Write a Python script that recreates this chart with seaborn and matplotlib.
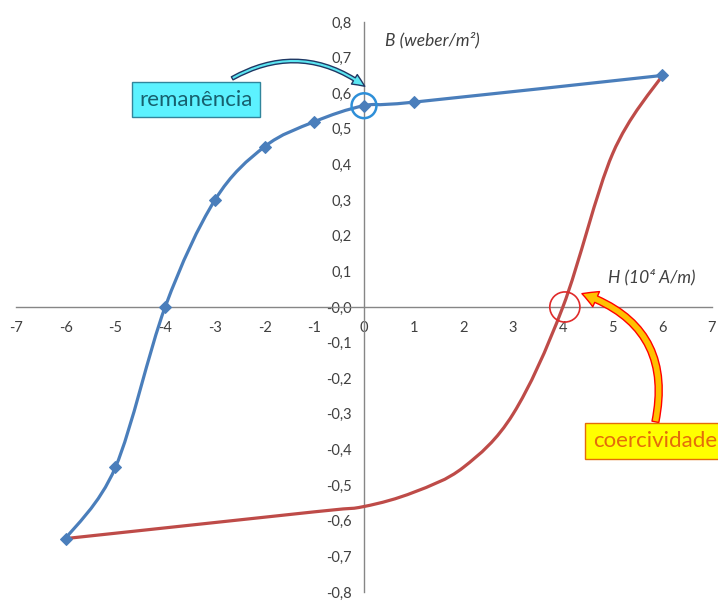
import numpy as np
import pandas as pd
import seaborn as sns
import matplotlib.pyplot as plt
from matplotlib.path import Path
from matplotlib.patches import PathPatch, FancyArrowPatch
from matplotlib.ticker import FuncFormatter, MultipleLocator

# curva de histerese (H em 10^4 A/m, B em weber/m²)
h_desc = [-6, -5, -4, -3, -2, -1, 0, 1, 6]
b_desc = [-0.65, -0.45, 0.0, 0.30, 0.45, 0.52, 0.565, 0.575, 0.65]
h_asc = [6, 5, 4, 3, 2, 1, 0, -1, -6]
b_asc = [0.65, 0.43, 0.0, -0.30, -0.45, -0.52, -0.56, -0.575, -0.65]

x_ticks = list(range(-7, 8))
y_ticks = [round(v, 1) for v in np.arange(-0.8, 0.81, 0.1)]

sns.set_theme(style="white")
plt.rcParams['font.family'] = ['Lato', 'DejaVu Sans']

BLUE = "#4A7EBB"
RED = "#BE4B48"


def smooth_path(xs, ys):
    # linha suavizada estilo Excel (Catmull-Rom -> Bezier cúbica)
    p = np.column_stack([xs, ys]).astype(float)
    ext = np.vstack([p[0], p, p[-1]])
    verts = [p[0]]
    codes = [Path.MOVETO]
    for i in range(1, len(ext) - 2):
        p0, p1, p2, p3 = ext[i - 1], ext[i], ext[i + 1], ext[i + 2]
        verts += [p1 + (p2 - p0) / 6, p2 - (p3 - p1) / 6, p2]
        codes += [Path.CURVE4] * 3
    return Path(verts, codes)


fig = plt.figure(figsize=(7.18, 6.01), dpi=100)
ax = fig.add_axes([16 / 718, 9 / 601, 696 / 718, 570 / 601])

ax.add_patch(PathPatch(smooth_path(h_asc, b_asc), fill=False, edgecolor=RED,
                       lw=2.3, capstyle='round', zorder=3))
ax.add_patch(PathPatch(smooth_path(h_desc, b_desc), fill=False, edgecolor=BLUE,
                       lw=2.3, capstyle='round', zorder=4))

df = pd.DataFrame({"H": h_desc, "B": b_desc})
sns.lineplot(data=df, x="H", y="B", sort=False, estimator=None, lw=0,
             marker="D", markersize=6.5, color=BLUE, markeredgecolor=BLUE, ax=ax, zorder=5)

ax.set_xlim(-7, 7)
ax.set_ylim(-0.8, 0.8)
ax.set_xlabel("")
ax.set_ylabel("")

for s in ["top", "right"]:
    ax.spines[s].set_visible(False)
for s in ["left", "bottom"]:
    ax.spines[s].set_position(("data", 0))
    ax.spines[s].set_color("#868686")
    ax.spines[s].set_linewidth(1.0)

ax.set_xticks(x_ticks)
ax.set_yticks(y_ticks)
ax.xaxis.set_minor_locator(MultipleLocator(0.2))
ax.xaxis.set_major_formatter(FuncFormatter(lambda v, pos: f"{v:.0f}"))
ax.yaxis.set_major_formatter(FuncFormatter(lambda v, pos: f"{v:.1f}".replace(".", ",")))
ax.tick_params(axis="both", which="major", direction="inout", length=8, width=0.9,
               color="#868686", labelsize=10.5, labelcolor="#404040")
ax.tick_params(axis="x", which="minor", direction="inout", length=4, width=0.8,
               color="#868686")
ax.tick_params(axis="x", which="major", pad=6)
ax.tick_params(axis="y", which="major", pad=5)
ax.grid(False)

# rótulos dos eixos
ax.text(0.42, 0.75, "B (weber/m²)", style="italic", fontsize=12.5,
        color="#404040", va="center", ha="left")
ax.text(4.91, 0.085, "H (10⁴ A/m)", style="italic", fontsize=12.5,
        color="#404040", va="center", ha="left")

# destaques: remanência e coercividade
rem_b = b_desc[h_desc.index(0)]
coe_h = h_asc[b_asc.index(0.0)]
ax.scatter([0], [rem_b], s=320, facecolors="none", edgecolors="#2E8FD8",
           linewidths=1.8, zorder=6)
ax.scatter([coe_h + 0.04], [0], s=470, facecolors="none", edgecolors="#E02A2A",
           linewidths=1.2, zorder=6)

ax.add_patch(FancyArrowPatch((-2.7, 0.638), (0.06, 0.615),
                             connectionstyle="arc3,rad=-0.33",
                             arrowstyle="simple,head_width=8,head_length=9,tail_width=2.5",
                             facecolor="#5CE6F2", edgecolor="#1F3864", lw=1.0, zorder=7))
ax.add_patch(FancyArrowPatch((5.85, -0.33), (4.33, 0.04),
                             connectionstyle="arc3,rad=0.45",
                             arrowstyle="simple,head_width=12,head_length=11,tail_width=5",
                             facecolor="#FFC000", edgecolor="#FF0000", lw=1.0, zorder=7))

ax.text(-3.38, 0.582, "remanência", fontsize=16, color="#17606E", ha="center",
        va="center", zorder=8,
        bbox=dict(boxstyle="square,pad=0.35", facecolor="#5CF2FF", edgecolor="#31859C", lw=1))
ax.text(4.6, -0.376, "coercividade", fontsize=16, color="#E46C0A", ha="left",
        va="center", zorder=8,
        bbox=dict(boxstyle="square,pad=0.35", facecolor="#FFFF00", edgecolor="#E46C0A", lw=1))

fig.savefig("out.png", dpi=100)
